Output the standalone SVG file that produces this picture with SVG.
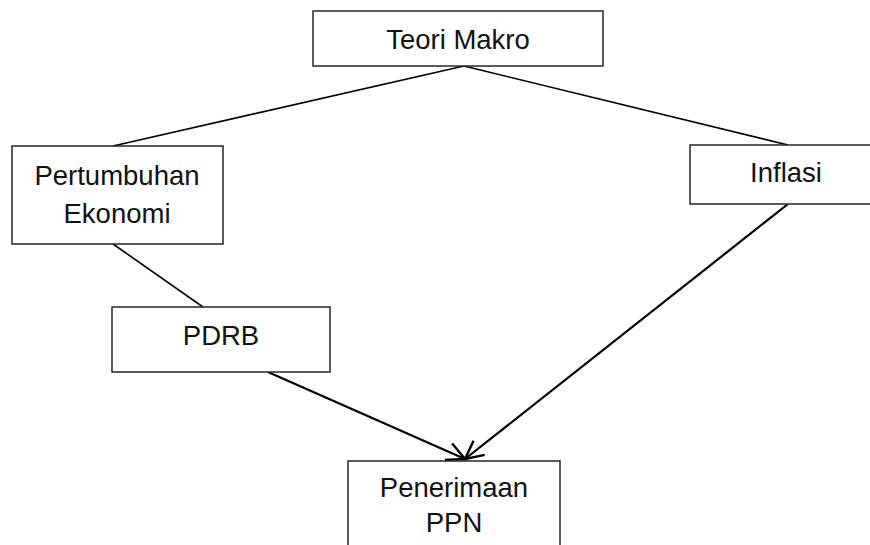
<svg xmlns="http://www.w3.org/2000/svg" width="870" height="545" viewBox="0 0 870 545">
<style>
.box{fill:#fff;stroke:#262626;stroke-width:1.5}
.t{font-family:"Liberation Sans",Arial,sans-serif;font-size:27.5px;fill:#111;text-anchor:middle}
.ln{stroke:#000;stroke-width:1.6;fill:none}
.ar{stroke:#000;stroke-width:2.2;fill:none}
</style>
<defs>
<marker id="ah" markerWidth="24" markerHeight="24" refX="20" refY="10" orient="auto" markerUnits="userSpaceOnUse">
<path d="M2,1 L20,10 L2,19" fill="none" stroke="#000" stroke-width="2.4"/>
</marker>
</defs>
<rect width="870" height="545" fill="#fff"/>
<g id="connectors">
<line class="ln" x1="464" y1="66" x2="113" y2="146"/>
<line class="ln" x1="464" y1="66" x2="788" y2="145"/>
<line class="ln" x1="113" y1="244" x2="203" y2="307"/>
<line class="ar" x1="268" y1="372" x2="465" y2="459" marker-end="url(#ah)"/>
<line class="ar" x1="788" y1="204" x2="465" y2="459" marker-end="url(#ah)"/>
</g>
<g id="teori">
<rect class="box" x="313" y="11" width="290" height="55"/>
<text class="t" x="458" y="49">Teori Makro</text>
</g>
<g id="pertumbuhan">
<rect class="box" x="12" y="146" width="211" height="98"/>
<text class="t" x="117" y="185">Pertumbuhan</text>
<text class="t" x="117" y="223">Ekonomi</text>
</g>
<g id="inflasi">
<rect class="box" x="690" y="145" width="192" height="59"/>
<text class="t" x="786" y="182">Inflasi</text>
</g>
<g id="pdrb">
<rect class="box" x="112" y="307" width="218" height="65"/>
<text class="t" x="221" y="345">PDRB</text>
</g>
<g id="ppn">
<rect class="box" x="348" y="461" width="212" height="100"/>
<text class="t" x="454" y="497">Penerimaan</text>
<text class="t" x="454" y="532">PPN</text>
</g>
</svg>
